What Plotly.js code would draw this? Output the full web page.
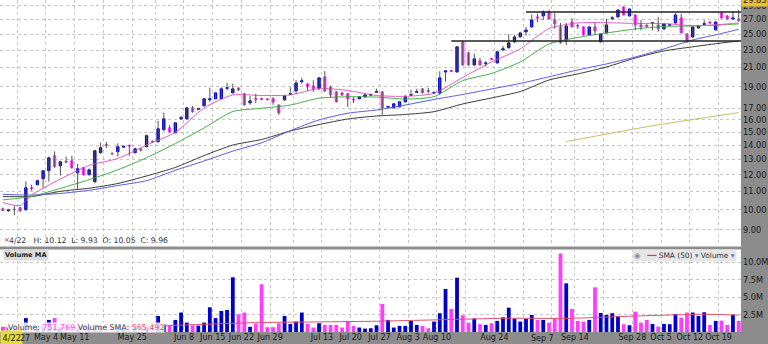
<!DOCTYPE html>
<html><head><meta charset="utf-8">
<script src="https://cdn.plot.ly/plotly-3.0.1.min.js"></script>
<style>html,body{margin:0;padding:0;background:#8c8c8c;}#chart{width:768px;height:344px;}</style>
</head><body><div id="chart"></div>
<script>
const dates = ['2020-04-22','2020-04-23','2020-04-24','2020-04-27','2020-04-28','2020-04-29','2020-04-30','2020-05-01',
'2020-05-04','2020-05-05','2020-05-06','2020-05-07','2020-05-08','2020-05-11','2020-05-12','2020-05-13','2020-05-14','2020-05-15',
'2020-05-18','2020-05-19','2020-05-20','2020-05-21','2020-05-22','2020-05-26','2020-05-27','2020-05-28','2020-05-29',
'2020-06-01','2020-06-02','2020-06-03','2020-06-04','2020-06-05','2020-06-08','2020-06-09','2020-06-10','2020-06-11','2020-06-12',
'2020-06-15','2020-06-16','2020-06-17','2020-06-18','2020-06-19','2020-06-22','2020-06-23','2020-06-24','2020-06-25','2020-06-26',
'2020-06-29','2020-06-30','2020-07-01','2020-07-02','2020-07-06','2020-07-07','2020-07-08','2020-07-09','2020-07-10',
'2020-07-13','2020-07-14','2020-07-15','2020-07-16','2020-07-17','2020-07-20','2020-07-21','2020-07-22','2020-07-23','2020-07-24',
'2020-07-27','2020-07-28','2020-07-29','2020-07-30','2020-07-31','2020-08-03','2020-08-04','2020-08-05','2020-08-06','2020-08-07',
'2020-08-10','2020-08-11','2020-08-12','2020-08-13','2020-08-14','2020-08-17','2020-08-18','2020-08-19','2020-08-20','2020-08-21',
'2020-08-24','2020-08-25','2020-08-26','2020-08-27','2020-08-28','2020-08-31','2020-09-01','2020-09-02','2020-09-03','2020-09-04',
'2020-09-08','2020-09-09','2020-09-10','2020-09-11','2020-09-14','2020-09-15','2020-09-16','2020-09-17','2020-09-18',
'2020-09-21','2020-09-22','2020-09-23','2020-09-24','2020-09-25','2020-09-28','2020-09-29','2020-09-30','2020-10-01','2020-10-02',
'2020-10-05','2020-10-06','2020-10-07','2020-10-08','2020-10-09','2020-10-12','2020-10-13','2020-10-14','2020-10-15','2020-10-16',
'2020-10-19','2020-10-20','2020-10-21','2020-10-22'];

const open = [10.05,9.95,10.03,10.11,10.00,11.22,11.40,11.76,12.26,13.26,12.58,12.88,12.91,12.13,12.45,12.01,11.58,13.47,14.06,13.42,
13.54,13.86,14.00,13.47,13.72,13.90,14.30,14.26,15.18,15.34,14.95,16.07,16.07,17.02,16.90,17.20,17.75,17.84,17.84,18.84,
18.40,18.88,18.31,17.47,17.88,17.84,17.82,17.84,17.28,17.74,18.27,18.59,19.50,19.28,19.08,18.79,20.00,18.98,18.50,18.40,
18.31,17.80,17.84,18.02,18.18,18.45,18.50,17.08,17.02,17.11,17.56,18.18,18.45,18.79,18.62,18.38,18.40,20.52,20.68,20.52,
24.01,22.68,21.29,21.74,21.45,22.00,21.51,23.03,23.28,24.01,24.64,25.29,25.96,27.35,27.49,28.06,26.92,25.96,24.26,26.64,
26.15,25.96,24.90,25.96,24.01,25.16,27.10,27.35,28.80,27.49,27.63,26.23,26.20,26.45,26.23,25.69,26.20,26.50,27.20,25.03,
24.64,25.82,26.30,26.64,25.55,27.92,27.49,27.06,27.06];
const high = [10.12,10.05,10.22,10.15,11.60,11.40,11.70,12.30,13.20,13.56,12.90,13.20,13.25,12.70,12.50,12.40,13.65,14.20,14.25,13.50,
14.15,14.00,14.05,13.80,13.80,14.80,14.35,15.90,16.60,15.55,15.80,16.30,17.10,17.20,17.00,17.90,18.90,18.50,18.95,19.40,
19.30,18.95,18.40,18.10,18.30,17.95,17.90,18.00,17.30,18.15,18.95,19.65,19.90,19.35,19.65,20.00,20.60,19.10,18.60,18.50,
18.40,18.00,18.10,18.30,18.35,18.80,18.55,17.20,17.45,17.60,18.20,18.70,18.80,18.85,18.90,18.55,20.60,20.70,20.75,23.50,
24.10,22.75,22.60,22.10,21.70,22.10,22.90,23.50,25.00,24.90,25.30,25.96,27.70,27.80,28.30,28.40,27.90,26.50,26.50,27.15,
26.40,26.00,26.00,26.60,25.10,27.10,27.50,28.45,28.90,28.60,27.70,26.90,26.30,26.60,27.35,26.45,26.35,27.90,27.80,25.10,
26.00,26.15,26.90,26.70,26.70,28.15,27.60,28.20,28.36];
const low = [9.93,9.90,9.72,9.90,9.97,11.05,11.35,11.22,11.58,12.45,11.95,12.75,12.40,11.15,11.95,11.95,11.50,13.40,13.80,13.30,
13.20,13.80,13.25,13.40,13.55,13.85,14.20,14.20,15.10,14.95,14.90,16.00,16.00,16.60,16.80,17.15,17.56,17.80,17.80,18.65,
18.35,18.60,17.20,17.30,17.45,17.70,17.70,17.30,16.41,17.65,18.20,18.30,19.30,18.60,18.50,18.70,18.50,17.95,17.50,18.10,
17.10,17.45,17.80,17.95,18.10,18.40,16.41,16.95,16.95,17.05,17.50,18.10,18.40,18.35,18.35,18.30,18.20,19.50,20.50,20.45,
21.20,21.20,21.20,21.20,21.10,21.85,21.45,22.90,23.20,23.90,24.55,24.80,25.80,26.60,26.90,27.00,25.70,23.80,23.60,25.90,
25.70,24.80,24.85,24.90,23.95,25.10,26.90,27.30,27.55,27.40,25.50,25.50,25.90,25.50,25.30,25.60,26.10,26.40,25.10,23.90,
24.50,25.75,26.25,26.40,25.50,27.10,26.95,26.95,26.70];
const close = [9.96,9.99,10.01,9.95,11.22,11.18,11.64,12.26,13.12,12.52,12.85,12.83,12.45,12.39,12.01,12.32,13.61,13.83,14.00,13.40,
13.90,13.92,13.95,13.75,13.66,14.72,14.24,15.26,16.07,15.02,15.74,16.20,17.02,16.67,16.95,17.84,17.84,18.40,18.79,18.90,
18.79,18.69,17.28,17.65,17.80,17.80,17.76,17.56,16.58,18.12,18.31,19.38,19.59,18.98,18.79,19.90,18.59,18.21,17.56,18.21,
17.84,17.74,18.02,18.21,18.24,18.52,17.02,17.14,17.38,17.56,18.02,18.24,18.52,18.40,18.55,18.44,19.90,20.63,20.60,23.40,
21.29,21.29,21.97,21.29,21.51,21.93,22.80,23.16,23.89,24.64,25.16,25.55,26.92,27.20,28.06,27.06,26.37,23.89,26.09,25.96,
26.09,24.90,25.96,25.42,25.03,26.23,27.20,28.36,27.63,28.50,26.23,25.96,25.98,26.52,25.69,26.37,26.26,27.63,25.16,24.01,
25.96,26.09,26.40,26.50,26.64,27.20,27.06,27.20,26.78];
// volume in millions
const volume = [0.75,0.6,0.7,0.8,2.0,0.9,0.8,0.9,1.74,2.0,0.8,0.7,0.8,0.5,0.7,0.7,1.1,0.8,0.7,0.5,
0.7,0.6,0.7,0.6,0.5,0.9,0.6,2.3,1.1,0.88,1.74,2.8,1.35,0.97,0.92,1.35,3.56,2.0,3.03,3.18,
7.87,2.55,2.8,0.75,1.2,6.87,0.69,0.69,1.26,2.31,1.16,1.5,2.8,1.16,0.64,1.26,1.02,1.02,1.02,0.64,
1.6,0.88,0.64,0.49,0.54,0.97,4.04,1.74,0.64,0.88,0.88,1.6,1.02,0.88,0.54,1.5,2.7,6.19,3.32,7.82,
2.41,1.35,1.93,1.12,1.02,1.26,1.6,2.12,3.5,1.93,1.5,1.88,2.45,1.74,1.74,1.35,1.88,11.3,7.0,3.32,
1.6,1.5,1.74,6.43,2.74,2.45,2.7,2.31,1.12,0.97,2.93,1.35,1.74,1.16,0.78,1.16,1.12,2.6,2.07,2.8,
2.8,2.31,2.84,1.02,1.6,1.64,1.02,2.5,1.6];

const maDates = ['2020-04-22','2020-04-27','2020-04-29','2020-05-06','2020-05-13','2020-05-20','2020-05-28','2020-06-04','2020-06-11',
'2020-06-18','2020-06-25','2020-07-02','2020-07-10','2020-07-17','2020-07-24','2020-07-31','2020-08-07','2020-08-14','2020-08-21',
'2020-08-28','2020-09-04','2020-09-14','2020-09-21','2020-09-28','2020-10-05','2020-10-12','2020-10-19','2020-10-22'];
const maPink = [10.38,10.22,10.80,11.74,12.60,13.07,14.02,14.97,17.01,18.20,18.15,18.20,18.83,18.63,18.15,18.07,18.36,19.94,21.62,
23.14,25.75,26.50,26.54,26.43,26.43,26.11,26.30,26.50];
const maGreen = [10.53,10.63,10.72,11.18,11.70,12.32,13.12,14.13,15.32,16.70,16.98,17.27,17.90,18.03,18.00,17.82,18.04,19.62,20.36,
21.62,23.75,24.57,25.15,25.68,26.02,26.09,26.23,26.37];
const maBlue = [10.84,10.81,10.80,10.89,11.07,11.35,11.64,12.29,12.90,13.58,14.18,15.11,15.98,16.55,16.83,17.27,17.78,18.25,18.78,
19.33,20.01,20.74,21.40,22.19,23.14,24.25,25.08,25.64];
const maBlack = [10.71,10.71,10.71,11.01,11.19,11.47,11.93,12.47,13.27,14.02,14.43,15.08,15.60,16.06,16.31,16.44,16.68,17.37,17.92,
18.53,19.68,20.31,21.06,22.07,22.90,23.40,23.87,24.12];
const oliveDates = ['2020-09-10','2020-10-01','2020-10-22'];
const maOlive = [14.27,15.5,16.6];
const volSmaDates = ['2020-04-22','2020-05-06','2020-05-20','2020-06-01','2020-06-11','2020-06-24','2020-07-10','2020-07-24',
'2020-08-07','2020-08-26','2020-09-10','2020-09-28','2020-10-14','2020-10-22'];
const volSma = [0.57,0.65,0.75,0.88,1.1,1.35,1.45,1.55,1.74,1.98,1.95,2.3,2.55,2.42];

const tickDates = ['2020-04-27','2020-05-04','2020-05-11','2020-05-18','2020-05-26','2020-06-01','2020-06-08','2020-06-15','2020-06-22',
'2020-06-29','2020-07-06','2020-07-13','2020-07-20','2020-07-27','2020-08-03','2020-08-10','2020-08-17','2020-08-24','2020-08-31',
'2020-09-08','2020-09-14','2020-09-21','2020-09-28','2020-10-05','2020-10-12','2020-10-19'];
const tickLabels = ['27','May 4','May 11','','May 25','','Jun 8','Jun 15','Jun 22','Jun 29','','Jul 13','Jul 20','Jul 27','Aug 3',
'Aug 10','','Aug 24','','Sep 7','Sep 14','','Sep 28','Oct 5','Oct 12','Oct 19'];
// labels the original draws a little off their gridline (pixel x of label centre)
const offsetLabels = ['27','Sep 7'];
const offsetLabelX = [25,542.5];
const priceTicks = [9,10,11,12,13,14,15,16,17,19,21,23,25,27,29];
const priceTickLabels = ['9.00','10.00','11.00','12.00','13.00','14.00','15.00','16.00','17.00','19.00','21.00','23.00','25.00','27.00','29.00'];
const volTicks = [2.5,5,7.5,10];
const volTickLabels = ['2.5M','5.0M','7.5M','10.0M'];
const levelStart = ['2020-08-12','2020-08-31'];
const levelPrice = [24.12,28.06];

const BLUE = '#0000c8', PINK = '#ff3cff';
const FONT = 'DejaVu Sans, Verdana, sans-serif';
const nb = '\u00a0';

const wickX = [], wickY = [];
dates.forEach((d,i)=>{ wickX.push(d,d,null); wickY.push(low[i],high[i],null); });
const bodyHigh = open.map((o,i)=>Math.max(o,close[i]));
const bodyLow = open.map((o,i)=>Math.min(o,close[i]));
const volColors = close.map((c,i)=> c>=open[i] ? BLUE : PINK);
const shownLabels = tickLabels.map(t => offsetLabels.includes(t) ? '' : t);

function ma(x,y,color){
  return {type:'scatter',mode:'lines',x:x,y:y,xaxis:'x',yaxis:'y',
    line:{color:color,width:1,shape:'spline',smoothing:0.6},hoverinfo:'skip'};
}

const traces = [
  ma(maDates,maBlack,'#3a3a3a'),
  ma(maDates,maBlue,'#5a5ae8'),
  ma(maDates,maGreen,'#44b044'),
  ma(maDates,maPink,'#e45cc8'),
  ma(oliveDates,maOlive,'#c4c060'),
  {type:'scatter',mode:'lines',x:wickX,y:wickY,xaxis:'x',yaxis:'y',line:{color:'#555',width:1},connectgaps:false,hoverinfo:'skip'},
  {type:'candlestick',x:dates,open:open,high:bodyHigh,low:bodyLow,close:close,xaxis:'x',yaxis:'y',
    increasing:{line:{color:BLUE,width:1},fillcolor:BLUE},
    decreasing:{line:{color:PINK,width:1},fillcolor:PINK},hoverinfo:'skip'},
  {type:'bar',x:dates,y:volume,xaxis:'x',yaxis:'y2',width:0.66,marker:{color:volColors,line:{width:0}},hoverinfo:'skip'},
  {type:'scatter',mode:'lines',x:volSmaDates,y:volSma,xaxis:'x',yaxis:'y2',
    line:{color:'#e0506e',width:1,shape:'spline',smoothing:0.6},hoverinfo:'skip'}
];

const W = 741, H = 332;
const px = v => v / W;
const py = v => (H - v) / H;

const shapes = levelStart.map((d,i)=>({type:'line',xref:'x',yref:'y',x0:d,x1:dates.length+1,
  y0:levelPrice[i],y1:levelPrice[i],line:{color:'#222',width:1.6},layer:'above'}));

const annotations = [
  {xref:'paper',yref:'paper',x:px(2),y:py(240),xanchor:'left',yanchor:'middle',showarrow:false,
    text:'<span style="color:#d02020">×</span>',font:{family:FONT,size:7,color:'#d02020'}},
  {xref:'paper',yref:'paper',x:px(7),y:py(241),xanchor:'left',yanchor:'middle',showarrow:false,
    text:'4/22'+nb+nb+nb+'H:'+nb+'10.12'+nb+nb+'L:'+nb+'9.93'+nb+nb+'O:'+nb+'10.05'+nb+nb+'C:'+nb+'9.96',
    font:{family:FONT,size:7.7,color:'#333'}},
  {xref:'paper',yref:'paper',x:px(3),y:py(254.5),xanchor:'left',yanchor:'middle',showarrow:false,
    text:'<b>Volume MA</b>',bgcolor:'#dcdcdc',borderpad:1,font:{family:FONT,size:6.6,color:'#222'}},
  {xref:'paper',yref:'paper',x:px(737),y:py(255.5),xanchor:'right',yanchor:'middle',showarrow:false,
    text:'<span style="color:#8090a0">◉</span>'+nb+nb+nb+'<span style="color:#d04060">━━</span>'+nb+'SMA (50)'+nb+'<span style="color:#4a7ad0">▾</span>'+nb+'Volume'+nb+'<span style="color:#4a7ad0">▾</span>',
    bgcolor:'#e6e6e6',borderpad:1,font:{family:FONT,size:7.4,color:'#333'}},
  {xref:'paper',yref:'paper',x:px(7),y:py(327),xanchor:'left',yanchor:'middle',showarrow:false,
    text:'Volume:'+nb+'<span style="color:#ff3cff">751,769</span>'+nb+'Volume SMA:'+nb+'<span style="color:#e0506e">565,492</span>',
    bgcolor:'rgba(255,255,255,0.85)',borderpad:0,font:{family:FONT,size:7.9,color:'#444'}},
  {xref:'paper',yref:'paper',x:px(754.5),y:py(0),xanchor:'center',yanchor:'middle',showarrow:false,
    text:'29.83',bgcolor:'#f0c030',borderpad:1,font:{family:FONT,size:8.2,color:'#222'}},
  {xref:'paper',yref:'paper',x:0,y:py(337.5),xanchor:'left',yanchor:'middle',showarrow:false,
    text:'4/22',bgcolor:'#e4dc3c',borderpad:1.5,font:{family:FONT,size:8.2,color:'#222'}}
].concat(offsetLabels.map((t,i)=>({xref:'paper',yref:'paper',x:px(offsetLabelX[i]),y:py(338),xanchor:'center',yanchor:'middle',
    showarrow:false,text:t,font:{family:FONT,size:8,color:'#1a1a1a'}})));

const layout = {
  width:768,height:344,margin:{l:0,r:27,t:0,b:12,pad:0},
  paper_bgcolor:'#8c8c8c',plot_bgcolor:'#ffffff',
  showlegend:false,hovermode:false,dragmode:false,
  font:{family:FONT,size:9,color:'#1a1a1a'},
  boxgap:0.42,
  xaxis:{type:'category',categoryorder:'array',categoryarray:dates,anchor:'y2',
    range:[-0.5,dates.length-0.6],
    tickmode:'array',tickvals:tickDates.map(d=>dates.indexOf(d)-0.5),ticktext:shownLabels,
    ticks:'',ticklen:0,tickangle:0,showgrid:true,gridcolor:'#c6c6c6',griddash:'dot',gridwidth:1,
    showline:false,zeroline:false,tickfont:{family:FONT,size:8,color:'#1a1a1a'},
    ticklabelstandoff:-1,rangeslider:{visible:false},fixedrange:true},
  yaxis:{domain:[0.2575,1],type:'log',range:[Math.log10(8.257),Math.log10(29.87)],side:'right',anchor:'x',
    tickmode:'array',tickvals:priceTicks,ticktext:priceTickLabels,ticks:'',
    showgrid:true,gridcolor:'#c6c6c6',griddash:'dot',gridwidth:1,showline:false,zeroline:false,
    tickfont:{family:FONT,size:8.2,color:'#1a1a1a'},ticklabelstandoff:1,fixedrange:true},
  yaxis2:{domain:[0,0.2485],range:[0,11.87],side:'right',anchor:'x',
    tickmode:'array',tickvals:volTicks,ticktext:volTickLabels,ticks:'',
    showgrid:true,gridcolor:'#c6c6c6',griddash:'dot',gridwidth:1,showline:false,zeroline:false,
    tickfont:{family:FONT,size:8.2,color:'#1a1a1a'},ticklabelstandoff:1,fixedrange:true},
  shapes:shapes,annotations:annotations
};

Plotly.newPlot('chart',traces,layout,{staticPlot:true,displayModeBar:false});
</script></body></html>
